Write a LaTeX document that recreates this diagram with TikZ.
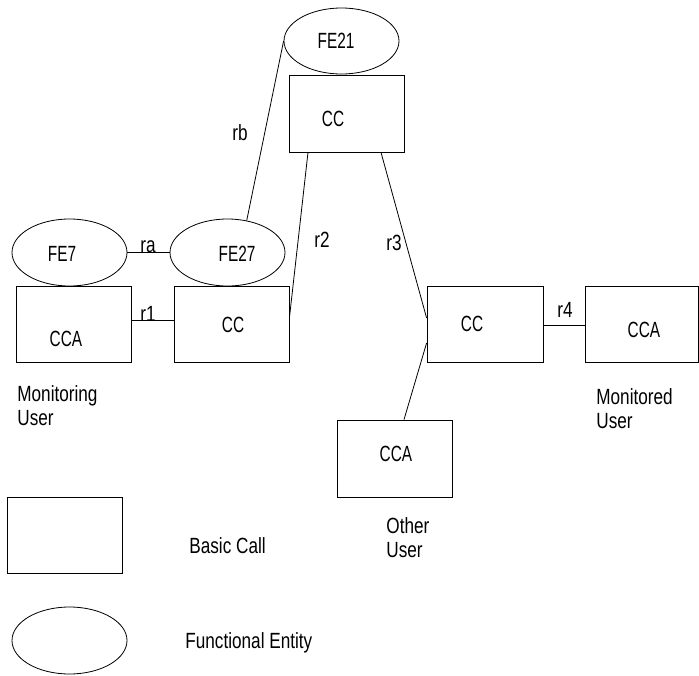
\documentclass[tikz,border=0pt]{standalone}
\usepackage{fontspec}
\setmainfont[FakeStretch=0.78]{Liberation Sans}
\newfontfamily\capsfont[FakeStretch=0.70]{Liberation Sans}
\usetikzlibrary{shapes.geometric}
\begin{document}
\begin{tikzpicture}[x=1pt,y=-1pt, line width=0.8pt,
  box/.style={draw, rectangle, minimum width=115pt, minimum height=76pt, inner sep=0pt},
  fe/.style={draw, ellipse, minimum width=115pt, minimum height=67pt, inner sep=0pt},
  lbl/.style={inner sep=0pt, font=\capsfont\fontsize{22}{24}\selectfont},
  rel/.style={inner sep=0pt, anchor=base, font=\fontsize{22}{24}\selectfont},
  txt/.style={inner sep=0pt, anchor=north west, align=left, font=\fontsize{22}{24}\selectfont}]
\useasboundingbox (0,0) rectangle (699,675);

% boxes
\node[box] (CCAL) at (74,324) {};
\node[box] (CCM) at (231.5,324) {};
\node[box, minimum height=77pt] (CCT) at (346.5,113.5) {};
\node[box, minimum width=116pt] (CCR) at (485,324) {};
\node[box, minimum width=113pt] (CCAR) at (641.5,324) {};
\node[box, minimum height=77pt] (CCAO) at (394.5,458.5) {};
\node[box] (LB) at (64.5,535) {};

% ellipses
\node[fe, minimum height=66pt] (FE21) at (341.5,41) {};
\node[fe] (FE7) at (69.5,252.5) {};
\node[fe] (FE27) at (227.5,252.5) {};
\node[fe] (LE) at (69.5,640.5) {};

% labels inside shapes
\node[lbl] (tCCAL) at (66,339) {CCA};
\node[lbl] (tCCM) at (233,325) {CC};
\node[lbl] (tCCT) at (333,119) {CC};
\node[lbl] (tCCR) at (472,324) {CC};
\node[lbl] (tCCAR) at (644,330) {CCA};
\node[lbl] (tCCAO) at (396,454) {CCA};
\node[lbl] (tFE21) at (336,41) {FE21};
\node[lbl] (tFE7) at (62,254) {FE7};
\node[lbl] (tFE27) at (237,254) {FE27};

% connectors
\draw (FE7.east) -- (FE27.west);
\draw ([yshift=4pt]CCAL.east) -- ([yshift=4pt]CCM.west);
\draw (FE27.59) -- (FE21.west);
\draw ([xshift=-38.5pt]CCT.south) -- ([yshift=6pt]CCM.east);
\draw ([xshift=34.5pt]CCT.south) -- ([yshift=6pt]CCR.west);
\draw ([yshift=-19pt]CCR.west) -- ([xshift=9.5pt]CCAO.north);
\draw ([yshift=-1pt]CCR.east) -- ([yshift=-1pt]CCAR.west);

% relation labels
\node[rel] (lra) at (148,252) {ra};
\node[rel] (lr1) at (148,321) {r1};
\node[rel] (lrb) at (240,140) {rb};
\node[rel] (lr2) at (322,247) {r2};
\node[rel] (lr3) at (394,250) {r3};
\node[rel] (lr4) at (565,317) {r4};

% user labels
\node[txt] (uMon) at (17,385) {Monitoring\\User};
\node[txt] (uMtd) at (596,388) {Monitored\\User};
\node[txt] (uOth) at (386,517) {Other\\User};
\node[txt] (lgBC) at (189,537) {Basic Call};
\node[txt] (lgFE) at (185,632) {Functional Entity};
\end{tikzpicture}
\end{document}
